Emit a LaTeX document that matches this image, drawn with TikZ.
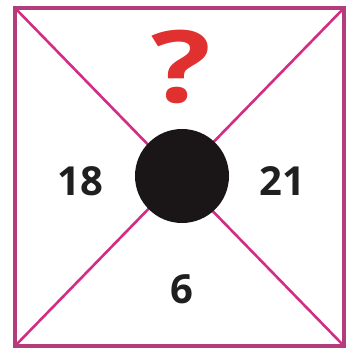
\documentclass[tikz,border=0pt]{standalone}
\usepackage{fontspec}
\setmainfont{Open Sans}
\begin{document}
\begin{tikzpicture}[x=1pt,y=-1pt,
  frame/.style={draw=framecol,line width=3.2pt},
  diag/.style={draw=diagcol,line width=2.6pt},
  num/.style={font=\fontsize{40}{40}\selectfont\bfseries,text=black!88,inner sep=0pt},
  qmark/.style={font=\fontsize{100}{100}\selectfont\bfseries,text=qcol,inner sep=0pt,xscale=1.25}]
\definecolor{framecol}{HTML}{B23C7C}
\definecolor{diagcol}{HTML}{D42C84}
\definecolor{qcol}{HTML}{E0302F}
\definecolor{dotcol}{HTML}{1A1618}
\useasboundingbox (0,0) rectangle (347,352);
\coordinate (tl) at (15,8);
\coordinate (tr) at (344,8);
\coordinate (br) at (344,346);
\coordinate (bl) at (15,346);
\draw[diag] (tl) -- (br);
\draw[diag] (tr) -- (bl);
\draw[frame] (tl) -- (tr) -- (br) -- (bl) -- cycle;
\node[circle,fill=dotcol,minimum size=94pt,inner sep=0pt] (dot) at (182,176) {};
\node[qmark] (q) at (181,67) {?};
\node[num] (a) at (80,181) {18};
\node[num] (b) at (282,181) {21};
\node[num] (c) at (182,289) {6};
\end{tikzpicture}
\end{document}
